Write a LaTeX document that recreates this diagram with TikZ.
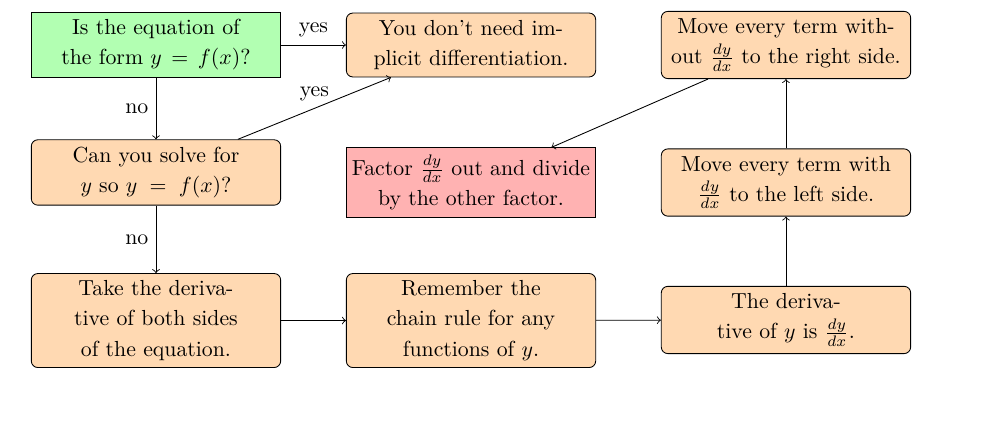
\documentclass[tikz,border=0pt]{standalone}
\usepackage{tikz}
\tikzset{
  box/.style={draw, text width=3.86cm, inner xsep=2.3pt, align=center},
  askbox/.style={box, fill=green!30},
  stepbox/.style={box, rounded corners=3pt, fill=orange!30},
  endbox/.style={box, fill=red!30}
}
\begin{document}
\begin{tikzpicture}[font=\fontsize{10}{13.8}\selectfont]
\useasboundingbox (-2.516,0.726) rectangle (13.613,-6.129);

% top row
                \node at (0,0) (eqform) [askbox] {Is the equation of the form $y = f(x)$?};
                \node at (5.081,0) (nodiff) [stepbox] {You don't need implicit differentiation.};
                \node at (10.161,0) (without) [stepbox] {Move every term without $\frac{dy}{dx}$ to the right side.};
                % middle row
                \node at (0,-2.056) (solve) [stepbox] {Can you solve for $y$ so $y = f(x)$?};
                \node at (5.081,-2.218) (factor) [endbox] {Factor $\frac{dy}{dx}$ out and divide by the other factor.};
                \node at (10.161,-2.218) (withdy) [stepbox] {Move every term with $\frac{dy}{dx}$ to the left side.};
                % bottom row
                \node at (0,-4.444) (deriv) [stepbox] {Take the derivative of both sides of the equation.};
                \node at (5.081,-4.444) (chain) [stepbox] {Remember the chain rule for any functions of $y$.};
                \node at (10.161,-4.435) (dydx) [stepbox] {The derivative of $y$ is $\frac{dy}{dx}$.};
                %
                % questions
                \draw [->] (eqform) -- node [above] {yes} (nodiff);
                \draw [->] (eqform) -- node [left] {no} (solve);
                \draw [->] (solve) -- node [above] {yes} (nodiff);
                \draw [->] (solve) -- node [left] {no} (deriv);
                %
                % steps
                \draw [->] (deriv) -- (chain);
                \draw [->] (chain) -- (dydx);
                \draw [->] (dydx) -- (withdy);
                \draw [->] (withdy) -- (without);
                \draw [->] (without) -- (factor);
\end{tikzpicture}
\end{document}
